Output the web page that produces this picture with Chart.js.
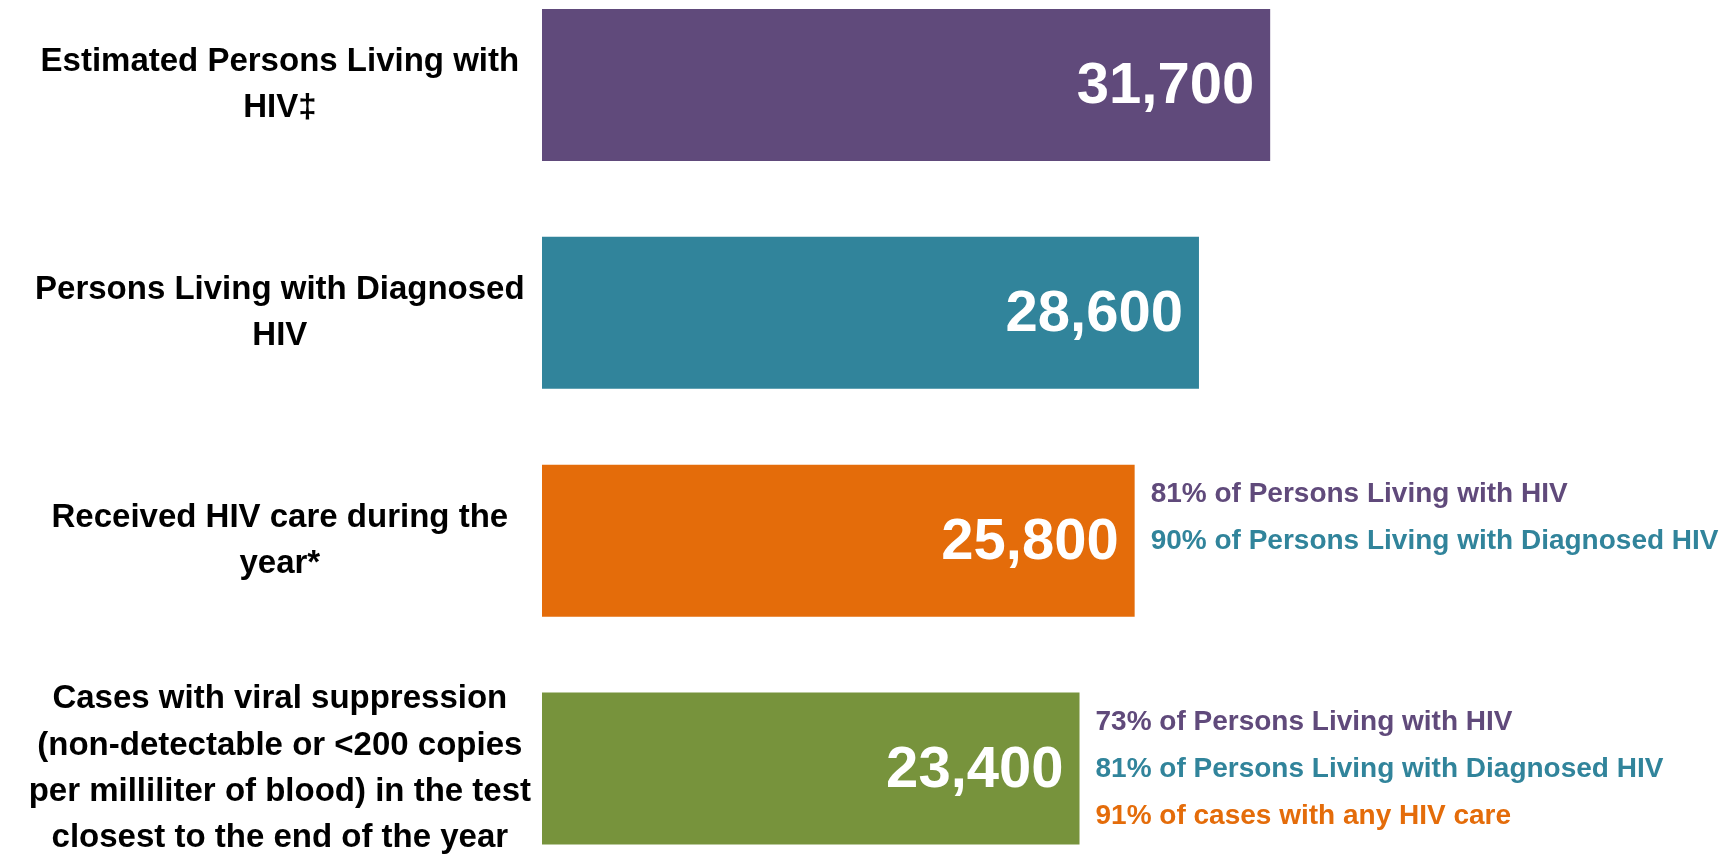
<!DOCTYPE html>
<html lang="en">
<head>
  <meta charset="UTF-8">
  <title>HIV Care Continuum</title>
  <script src="https://cdn.jsdelivr.net/npm/chart.js"></script>
  <style>
    body {
      margin: 0;
      padding: 0;
      background: #ffffff;
      overflow: hidden;
    }
  </style>
</head>
<body>
  <canvas id="cascadeChart" width="1725" height="854"></canvas>

  <script>
    // categories (one array of lines per bar)
    const categories = [
      ['Estimated Persons Living with', 'HIV\u2021'],
      ['Persons Living with Diagnosed', 'HIV'],
      ['Received HIV care during the', 'year*'],
      ['Cases with viral suppression', '(non-detectable or <200 copies', 'per milliliter of blood) in the test', 'closest to the end of the year']
    ];
    const counts = [31700, 28600, 25800, 23400];
    const barColors = ['#604A7B', '#31849B', '#E46C0A', '#77933C'];

    // percentage notes next to the lower bars
    const noteTexts = [
      [],
      [],
      ['81% of Persons Living with HIV', '90% of Persons Living with Diagnosed HIV'],
      ['73% of Persons Living with HIV', '81% of Persons Living with Diagnosed HIV', '91% of cases with any HIV care']
    ];
    const noteColors = [
      [],
      [],
      ['#604A7B', '#31849B'],
      ['#604A7B', '#31849B', '#E46C0A']
    ];

    const fontFamily = "'Liberation Sans Narrow', 'Arial Narrow', 'Liberation Sans', Arial, sans-serif";

    // white value inside the end of each bar
    const valueLabels = {
      id: 'valueLabels',
      afterDatasetsDraw(chart) {
        const ctx = chart.ctx;
        const meta = chart.getDatasetMeta(0);
        ctx.save();
        ctx.fillStyle = '#ffffff';
        ctx.font = 'bold 58px ' + fontFamily;
        ctx.textAlign = 'right';
        ctx.textBaseline = 'middle';
        meta.data.forEach((bar, i) => {
          ctx.fillText(counts[i].toLocaleString('en-US'), bar.x - 16, bar.y + 2);
        });
        ctx.restore();
      }
    };

    // coloured notes to the right of the bars
    const barNotes = {
      id: 'barNotes',
      afterDatasetsDraw(chart) {
        const ctx = chart.ctx;
        const meta = chart.getDatasetMeta(0);
        ctx.save();
        ctx.font = 'bold 28px ' + fontFamily;
        ctx.textAlign = 'left';
        ctx.textBaseline = 'middle';
        meta.data.forEach((bar, i) => {
          noteTexts[i].forEach((line, j) => {
            ctx.fillStyle = noteColors[i][j];
            ctx.fillText(line, bar.x + 16, bar.y - 46 + j * 47);
          });
        });
        ctx.restore();
      }
    };

    const ctx = document.getElementById('cascadeChart').getContext('2d');
    new Chart(ctx, {
      type: 'bar',
      data: {
        datasets: [{
          data: counts.map((v, i) => ({ x: v, y: i })),
          backgroundColor: barColors,
          borderWidth: 0,
          barPercentage: 0.667,
          categoryPercentage: 1
        }]
      },
      options: {
        indexAxis: 'y',
        responsive: false,
        animation: false,
        devicePixelRatio: 1,
        layout: { padding: 0 },
        scales: {
          x: {
            display: false,
            min: 0,
            max: 51500
          },
          y: {
            type: 'linear',
            reverse: true,
            offset: false,
            min: -0.373,
            max: 3.375,
            grid: { display: false, drawTicks: false, offset: false },
            border: { display: false },
            afterBuildTicks(scale) {
              scale.ticks = categories.map((c, i) => ({ value: i }));
            },
            afterFit(scale) {
              scale.width = 542;
              scale.paddingTop = 0;
              scale.paddingBottom = 0;
            },
            ticks: {
              autoSkip: false,
              crossAlign: 'center',
              padding: 11,
              color: '#000000',
              font: { family: fontFamily, size: 33, weight: 'bold', lineHeight: 1.4 },
              callback: (value) => categories[value]
            }
          }
        },
        plugins: {
          legend: { display: false },
          tooltip: { enabled: false }
        }
      },
      plugins: [valueLabels, barNotes]
    });
  </script>
</body>
</html>
